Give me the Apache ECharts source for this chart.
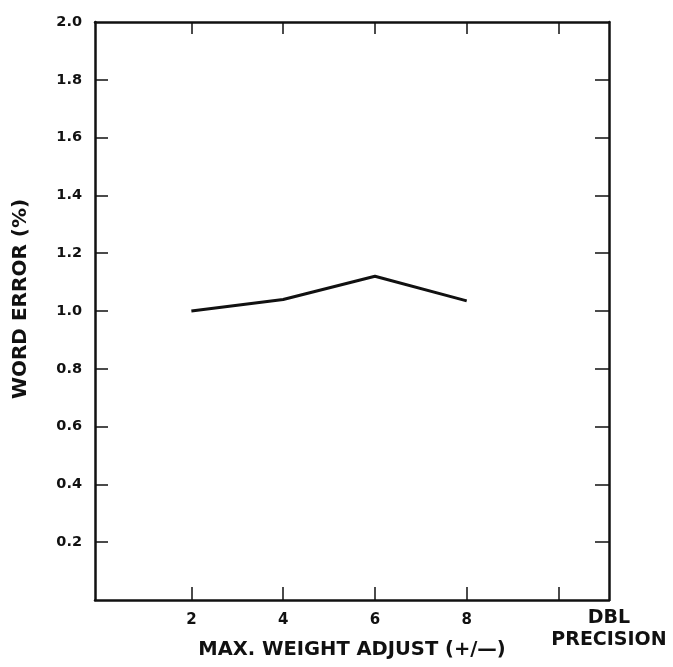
<!DOCTYPE html>
<html>
<head>
<meta charset="utf-8">
<script src="https://cdn.jsdelivr.net/npm/echarts@6/dist/echarts.min.js"></script>
<style>
  html, body { margin: 0; padding: 0; background: #fff; }
  #chart { width: 673px; height: 667px; }
</style>
</head>
<body>
<div id="chart"></div>
<script>
// max weight adjust (+/-) ; 10 stands for the DBL PRECISION position
var weightAdjust = [2, 4, 6, 8];
var wordError = [1.00, 1.04, 1.12, 1.035];
var xTicks = [2, 4, 6, 8, 10];
var xLabels = { 2: '{n|2}', 4: '{n|4}', 6: '{n|6}', 8: '{n|8}', 11.1: '{d|DBL}\n{d|PRECISION}' };
var yTicks = [0.2, 0.4, 0.6, 0.8, 1.0, 1.2, 1.4, 1.6, 1.8, 2.0];

var chart = echarts.init(document.getElementById('chart'));
var ink = '#111';
var font = 'DejaVu Sans';

var lineData = weightAdjust.map(function (x, i) { return [x, wordError[i]]; });

var option = {
    animation: false,
    backgroundColor: '#fff',
    grid: { left: 95, right: 64, top: 22, bottom: 67, containLabel: false, outerBoundsMode: 'none' },
    xAxis: [
        {
            type: 'value', position: 'bottom', min: -0.1, max: 11.1,
            name: 'MAX. WEIGHT ADJUST (+/\u2014)', nameLocation: 'middle', nameGap: 40, nameMoveOverlap: false,
            nameTextStyle: { color: ink, fontFamily: font, fontWeight: 'bold', fontSize: 19.5 },
            axisLine: { show: true, onZero: false, lineStyle: { color: ink, width: 2.5 } },
            axisTick: { show: true, inside: true, length: 13, customValues: xTicks, lineStyle: { color: ink, width: 1.5 } },
            axisLabel: {
                show: true, margin: 7, customValues: [2, 4, 6, 8, 11.1],
                color: ink, fontFamily: font, fontWeight: 'bold', fontSize: 15,
                formatter: function (v) { return xLabels[v] || ''; },
                rich: {
                    n: { color: ink, fontFamily: font, fontWeight: 'bold', fontSize: 15, lineHeight: 26 },
                    d: { color: ink, fontFamily: font, fontWeight: 'bold', fontSize: 19, lineHeight: 22 }
                }
            },
            splitLine: { show: false }
        },
        {
            type: 'value', position: 'top', min: -0.1, max: 11.1,
            axisLine: { show: true, onZero: false, lineStyle: { color: ink, width: 2.5 } },
            axisTick: { show: true, inside: true, length: 12, customValues: xTicks, lineStyle: { color: ink, width: 1.5 } },
            axisLabel: { show: false },
            splitLine: { show: false }
        }
    ],
    yAxis: [
        {
            type: 'value', position: 'left', min: 0, max: 2.0,
            name: 'WORD ERROR (%)', nameLocation: 'middle', nameGap: 64, nameMoveOverlap: false,
            nameTextStyle: { color: ink, fontFamily: font, fontWeight: 'bold', fontSize: 20, padding: [0, 0, 0, 24] },
            axisLine: { show: true, onZero: false, lineStyle: { color: ink, width: 2.5 } },
            axisTick: { show: true, inside: true, length: 13, customValues: yTicks.slice(0, 9), lineStyle: { color: ink, width: 1.5 } },
            axisLabel: {
                show: true, margin: 13, customValues: yTicks,
                color: ink, fontFamily: font, fontWeight: 'bold', fontSize: 14.5,
                formatter: function (v) { return v.toFixed(1); }
            },
            splitLine: { show: false }
        },
        {
            type: 'value', position: 'right', min: 0, max: 2.0,
            axisLine: { show: true, onZero: false, lineStyle: { color: ink, width: 2.5 } },
            axisTick: { show: true, inside: true, length: 14, customValues: yTicks.slice(0, 9), lineStyle: { color: ink, width: 1.5 } },
            axisLabel: { show: false },
            splitLine: { show: false }
        }
    ],
    series: [
        {
            type: 'line',
            xAxisIndex: 0,
            yAxisIndex: 0,
            data: lineData,
            symbol: 'none',
            lineStyle: { color: ink, width: 3 },
            silent: true
        }
    ]
};
chart.setOption(option);
</script>
</body>
</html>
